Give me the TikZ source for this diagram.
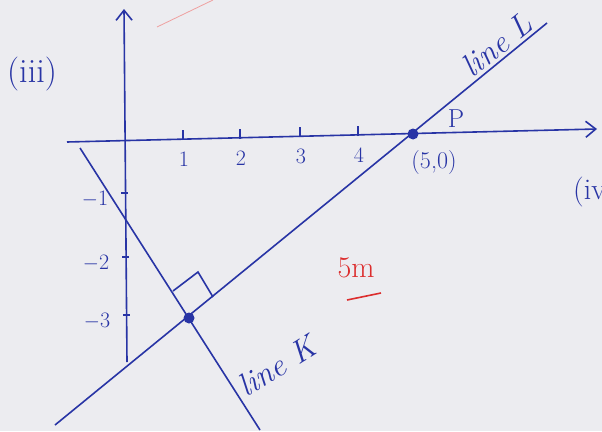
\documentclass[tikz,border=0pt]{standalone}
\usepackage{tikz}
\usetikzlibrary{arrows.meta,positioning,calc}
\definecolor{cInk}{RGB}{40,52,165}
\definecolor{cRedInk}{RGB}{220,45,45}
\definecolor{cPaper}{RGB}{236,236,240}
\tikzset{
	haxis/.style={-{Straight Barb[length=10pt,width=16pt]},line width=1.6pt,draw=cInk},
	gline/.style={line width=1.6pt,draw=cInk},
	tickln/.style={line width=1.4pt,draw=cInk},
	numlbl/.style={font=\fontsize{22}{24}\selectfont,text=cInk,inner sep=1pt},
	hand/.style={font=\fontsize{32}{34}\selectfont\itshape,text=cInk,inner sep=1pt},
	dotpt/.style={circle,fill=cInk,inner sep=0pt,minimum size=11pt},
}
\begin{document}
\begin{tikzpicture}[x=1pt,y=-1pt]
	\fill[cPaper] (0,0) rectangle (602,431);
	\useasboundingbox (0,0) rectangle (602,431);
	% axes
	\coordinate (xl) at (67,142);
	\coordinate (xr) at (597,129);
	\coordinate (yb) at (127,362);
	\coordinate (yt) at (124,9);
	\draw[haxis] (xl) -- (xr);
	\draw[haxis] (yb) -- (yt);
	\foreach \xx/\yy/\lab in {183/139/1,240/138/2,300/136/3,358/135/4}{
		\draw[tickln] (\xx,\yy+1) -- (\xx,\yy-9);
		\node[numlbl] (tx\lab) at (\xx+1,\yy+20) {\lab};
	}
	\foreach \yy/\xx/\lab in {193/125/1,257/126/2,315/127/3}{
		\draw[tickln] (\xx-4,\yy) -- (\xx+3,\yy);
		\node[numlbl] (ty\lab) at (\xx-30,\yy+6) {$-$\lab};
	}
	% lines L and K
	\coordinate (Ls) at (55,425);
	\coordinate (Le) at (547,23);
	\coordinate (Ks) at (80,148);
	\coordinate (Ke) at (260,430);
	\draw[gline] (Ls) -- (Le);
	\draw[gline] (Ks) -- (Ke);
	\node[dotpt] (P5) at (413,134) {};
	\node[dotpt] (Q) at (189,318) {};
	\coordinate (ra1) at (173,291);
	\coordinate (ra2) at (198,272);
	\coordinate (ra3) at (213,297);
	\draw[gline] (ra1) -- (ra2) -- (ra3);
	% labels
	\node[hand,rotate=39] (lblL) at (497,45) {line L};
	\node[hand,rotate=32] (lblK) at (277,366) {line K};
	\node[numlbl,font=\fontsize{26}{28}\selectfont] (lblP) at (456,119) {P};
	\node[numlbl,font=\fontsize{24}{26}\selectfont] (lbl50) at (434,163) {(5,0)};
	\node[font=\fontsize{34}{36}\selectfont,text=cInk] (lbl3) at (32,74) {(iii)};
	\node[font=\fontsize{30}{32}\selectfont,text=cInk,anchor=west,inner sep=0pt] (lbl4) at (573,192) {(iv)};
	\node[font=\fontsize{30}{32}\selectfont,text=cRedInk] (mark) at (356,268) {5m};
	\coordinate (ul1) at (347,300);
	\coordinate (ul2) at (381,293);
	\draw[cRedInk,line width=1.6pt] (ul1) -- (ul2);
	\draw[cRedInk!45,line width=0.8pt] (157,27) -- (213,0);
\end{tikzpicture}
\end{document}
